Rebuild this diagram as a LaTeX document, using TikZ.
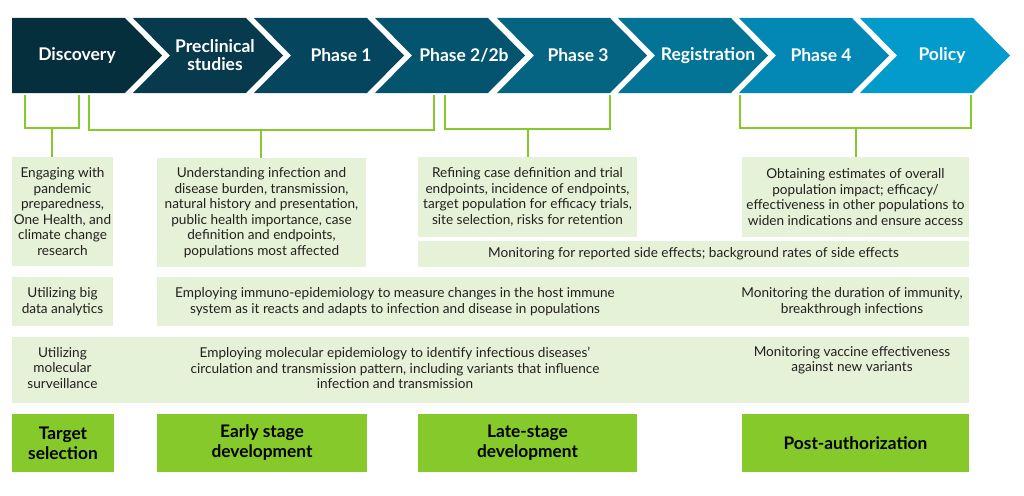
\documentclass[tikz,border=0pt]{standalone}
\usepackage{fontspec}
\setmainfont{Lato}
\begin{document}
\begin{tikzpicture}[x=1pt,y=-1pt,
    pale/.style={fill=kPale,inner sep=0pt,align=center,text=kText,
      font=\fontsize{13.6}{15.5}\selectfont},
    note/.style={inner sep=0pt,align=center,text=kText,
      font=\fontsize{13.6}{15.5}\selectfont},
    stage/.style={fill=kLime,inner sep=0pt,align=center,text=black,
      font=\bfseries\fontsize{17.3}{20}\selectfont},
    phase/.style={inner sep=0pt,align=center,text=white,
      font=\bfseries\fontsize{17.5}{18}\selectfont},
    bracket/.style={draw=kLime,line width=2pt}]
  % colors
  \definecolor{kPale}{RGB}{230,242,215}
  \definecolor{kLime}{RGB}{133,201,42}
  \definecolor{kText}{RGB}{35,31,32}
  \definecolor{kBlueA}{RGB}{6,47,61}
  \definecolor{kBlueB}{RGB}{6,58,76}
  \definecolor{kBlueC}{RGB}{5,70,94}
  \definecolor{kBlueD}{RGB}{4,84,112}
  \definecolor{kBlueE}{RGB}{4,100,130}
  \definecolor{kBlueF}{RGB}{3,116,149}
  \definecolor{kBlueG}{RGB}{3,136,181}
  \definecolor{kBlueH}{RGB}{3,155,204}
  \useasboundingbox (0,0) rectangle (1024,495);
  % chevrons
  \foreach \l/\n/\c/\tx/\t/\nm in {12/0/kBlueA/77/Discovery/disc,
      133/37/kBlueB/215/{Preclinical\\studies}/precl,
      254/37/kBlueC/341/Phase 1/ph1,
      375/37/kBlueD/464/{Phase 2/2b}/ph2,
      497/37/kBlueE/578/Phase 3/ph3,
      618/37/kBlueF/708/Registration/reg,
      739/37/kBlueG/821/Phase 4/ph4,
      860/37/kBlueH/942/Policy/pol} {
    \fill[\c] (\l,18) -- (\l+113,18) -- (\l+150,55.5) -- (\l+113,93)
      -- (\l,93) -- (\l+\n,55.5) -- cycle;
    \node[phase] (\nm) at (\tx,55.5) {\t};
  }
  % boxes
  \node[pale,minimum width=101pt,minimum height=109pt] (engage) at (62.5,211.5)
    {Engaging with\\pandemic\\preparedness,\\One Health, and\\climate change\\research};
  \node[pale,minimum width=209pt,minimum height=109pt] (underst) at (261.5,212.5)
    {Understanding infection and\\disease burden, transmission,\\natural history and presentation,\\public health importance, case\\definition and endpoints,\\populations most affected};
  \node[pale,minimum width=219pt,minimum height=80pt] (refine) at (527.5,197)
    {Refining case definition and trial\\endpoints, incidence of endpoints,\\target population for efficacy trials,\\site selection, risks for retention};
  \node[pale,minimum width=227pt,minimum height=80pt] (obtain) at (855.5,197)
    {Obtaining estimates of overall\\population impact; efficacy/\\effectiveness in other populations to\\widen indications and ensure access};
  \node[pale,minimum width=551pt,minimum height=26pt] (sidefx) at (693.5,254)
    {Monitoring for reported side effects; background rates of side effects};
  \node[pale,minimum width=101pt,minimum height=49pt] (bigdata) at (62.5,301.5)
    {Utilizing big\\data analytics};
  \node[pale,minimum width=812pt,minimum height=49pt] (immuno) at (563,301.5) {};
  \node[note] (immunoL) at (395,301.5)
    {Employing immuno-epidemiology to measure changes in the host immune\\system as it reacts and adapts to infection and disease in populations};
  \node[note] (immunoR) at (852,301.5)
    {Monitoring the duration of immunity,\\breakthrough infections};
  \node[pale,minimum width=957pt,minimum height=66pt] (molbar) at (490.5,370) {};
  \node[note] (molL) at (62.5,368) {Utilizing\\molecular\\surveillance};
  \node[note] (molM) at (395,368)
    {Employing molecular epidemiology to identify infectious diseases'\\circulation and transmission pattern, including variants that influence\\infection and transmission};
  \node[note] (molR) at (852,360.5)
    {Monitoring vaccine effectiveness\\against new variants};
  % stages
  \node[stage,minimum width=102pt,minimum height=58pt] (target) at (63,443) {Target\\selection};
  \node[stage,minimum width=210pt,minimum height=58pt] (early) at (262,443) {Early stage\\development};
  \node[stage,minimum width=219pt,minimum height=58pt] (late) at (527.5,443) {Late-stage\\development};
  \node[stage,minimum width=227pt,minimum height=58pt] (post) at (855.5,443) {Post-authorization};
  % brackets
  \coordinate (b1l) at (25,95);  \coordinate (b1r) at (79,95);  \coordinate (b1m) at (52,128);
  \coordinate (b2l) at (89,95);  \coordinate (b2r) at (434,95); \coordinate (b2m) at (261,130);
  \coordinate (b3l) at (445,95); \coordinate (b3r) at (610,95); \coordinate (b3m) at (528,129);
  \coordinate (b4l) at (740,95); \coordinate (b4r) at (971,95); \coordinate (b4m) at (856,128);
  \foreach \b/\bx in {b1/engage, b2/underst, b3/refine, b4/obtain} {
    \draw[bracket] (\b l) |- (\b m) -| (\b r);
    \draw[bracket] (\b m) -- (\b m |- \bx.north);
  }
\end{tikzpicture}
\end{document}
